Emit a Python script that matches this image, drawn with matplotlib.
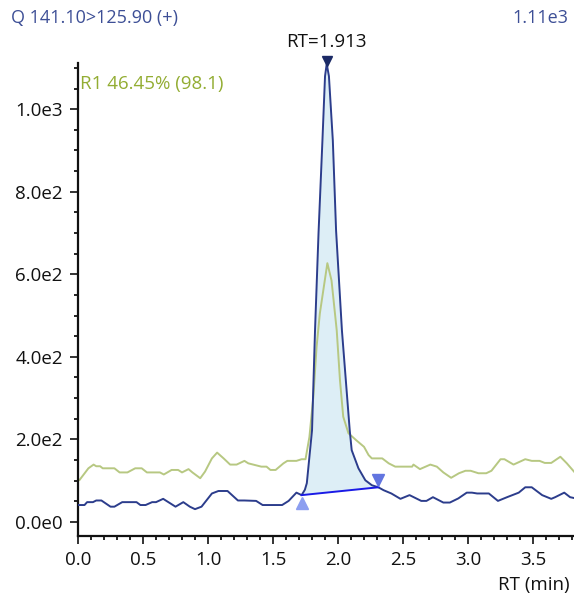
import numpy as np
import matplotlib
matplotlib.use("Agg")
import matplotlib.pyplot as plt
from matplotlib.ticker import MultipleLocator
from matplotlib.transforms import offset_copy

# quantifier trace (blue)
q_time = [0.00, 0.05, 0.07, 0.115, 0.14, 0.18, 0.25, 0.28, 0.34, 0.45, 0.48, 0.52,
          0.57, 0.60, 0.655, 0.75, 0.81, 0.86, 0.90, 0.95, 1.03, 1.08, 1.15, 1.23,
          1.28, 1.37, 1.42, 1.57, 1.62, 1.68, 1.72, 1.745, 1.76, 1.785, 1.80, 1.823,
          1.85, 1.88, 1.90, 1.913, 1.93, 1.96, 1.985, 2.03, 2.09, 2.105, 2.157, 2.21,
          2.26, 2.31, 2.35, 2.41, 2.48, 2.55, 2.64, 2.68, 2.73, 2.81, 2.86, 2.925,
          2.99, 3.03, 3.07, 3.16, 3.23, 3.30, 3.39, 3.44, 3.49, 3.57, 3.64, 3.67,
          3.74, 3.785, 3.815]
q_int = [41, 41, 48, 48, 52, 52, 37, 37, 48, 48, 41, 41,
         48, 48, 56, 37, 48, 37, 31, 37, 69, 75, 75, 52,
         52, 51, 41, 41, 51, 71, 65, 78, 94, 174, 222, 464,
         700, 924, 1080, 1110, 1080, 924, 706, 464, 222, 174, 130, 101,
         89, 84, 77, 69, 56, 65, 51, 51, 60, 47, 47, 57,
         71, 71, 69, 69, 51, 60, 71, 84, 84, 65, 56, 60,
         71, 60, 58]

# qualifier trace (green)
r_time = [0.00, 0.01, 0.08, 0.12, 0.14, 0.17, 0.19, 0.28, 0.32, 0.38, 0.44, 0.49,
          0.53, 0.63, 0.66, 0.72, 0.77, 0.80, 0.85, 0.88, 0.94, 0.977, 1.03, 1.07,
          1.12, 1.17, 1.22, 1.28, 1.31, 1.41, 1.45, 1.48, 1.52, 1.58, 1.61, 1.68,
          1.72, 1.75, 1.78, 1.81, 1.835, 1.86, 1.918, 1.95, 1.99, 2.015, 2.04, 2.08,
          2.14, 2.20, 2.235, 2.26, 2.34, 2.39, 2.44, 2.50, 2.57, 2.58, 2.63, 2.71,
          2.76, 2.81, 2.87, 2.93, 2.98, 3.02, 3.08, 3.14, 3.18, 3.25, 3.28, 3.35,
          3.44, 3.49, 3.55, 3.59, 3.64, 3.71, 3.76, 3.815]
r_int = [101, 101, 130, 139, 135, 135, 130, 130, 120, 120, 130, 130,
         120, 120, 115, 126, 126, 120, 128, 120, 106, 122, 154, 168,
         154, 139, 139, 148, 142, 134, 134, 126, 126, 142, 148, 148,
         152, 152, 206, 303, 424, 505, 627, 585, 464, 343, 255, 215,
         198, 182, 162, 154, 154, 142, 134, 134, 134, 139, 128, 139,
         134, 120, 107, 118, 124, 124, 118, 118, 124, 152, 152, 139,
         152, 148, 148, 143, 143, 158, 142, 122]

peak_start, peak_end, peak_rt = 1.72, 2.31, 1.913
peak_height = 1110

y_ticks = [0, 200, 400, 600, 800, 1000]
y_labels = ["0.0e0", "2.0e2", "4.0e2", "6.0e2", "8.0e2", "1.0e3"]
x_ticks = [0.0, 0.5, 1.0, 1.5, 2.0, 2.5, 3.0, 3.5]

plt.rcParams['font.family'] = ['Open Sans', 'DejaVu Sans']
fs = 13.5

blue = "#2c3d8c"
green = "#b7c882"
title_col = "#3d4f96"

fig = plt.figure(figsize=(5.74, 5.96), dpi=100)
ax = fig.add_axes([0.1359, 0.1007, 0.8641, 0.7936])

qt = np.array(q_time)
qi = np.array(q_int)

# integrated area between trace and baseline
mask = (qt >= peak_start) & (qt <= peak_end)
base_vals = np.interp([peak_start, peak_end], qt, qi)
base_line = np.interp(qt[mask], [peak_start, peak_end], base_vals)
ax.fill_between(qt[mask], base_line, qi[mask], color="#ddeef6", lw=0, zorder=1)

ax.plot(r_time, r_int, color=green, lw=1.4, zorder=2)
ax.plot(q_time, q_int, color=blue, lw=1.4, zorder=3)
ax.plot([peak_start, peak_end], base_vals, color="#1a1ae6", lw=1.4, zorder=4)

# peak start / end markers, offset below / above the baseline points
ax.plot(peak_start, base_vals[0], marker="^", ms=8, color="#8c9ef0", ls="none",
        transform=offset_copy(ax.transData, fig=fig, x=0, y=-8, units="dots"), zorder=5)
ax.plot(peak_end, base_vals[1], marker="v", ms=8, color="#6275e0", ls="none",
        transform=offset_copy(ax.transData, fig=fig, x=0, y=7, units="dots"), zorder=5)
ax.plot(peak_rt, peak_height, marker="v", ms=7, color="#1b2a66", ls="none",
        transform=offset_copy(ax.transData, fig=fig, x=0, y=3, units="dots"),
        clip_on=False, zorder=5)

ax.set_xlim(0, 3.815)
ax.set_ylim(-34, 1112)
ax.set_xticks(x_ticks)
ax.set_xticklabels([f"{v:.1f}" for v in x_ticks])
ax.set_yticks(y_ticks)
ax.set_yticklabels(y_labels)
ax.xaxis.set_minor_locator(MultipleLocator(0.1))
ax.yaxis.set_minor_locator(MultipleLocator(50))
ax.tick_params(which="major", length=6, width=1.2, labelsize=fs, colors="#111111")
ax.tick_params(which="minor", length=3, width=1.2)
ax.tick_params(axis="x", pad=5)
ax.tick_params(axis="y", pad=5)
for s in ["top", "right"]:
    ax.spines[s].set_visible(False)
for s in ["left", "bottom"]:
    ax.spines[s].set_linewidth(1.6)
    ax.spines[s].set_color("#111111")

fig.text(0.019, 0.970, "Q 141.10>125.90 (+)", color=title_col, fontsize=13,
         ha="left", va="center")
fig.text(0.991, 0.970, "1.11e3", color=title_col, fontsize=13, ha="right", va="center")
ax.annotate(f"RT={peak_rt}", xy=(peak_rt, peak_height), xytext=(0, 9),
            textcoords="offset points", ha="center", va="bottom", fontsize=fs,
            color="#111111", annotation_clip=False)
ax.text(0.005, 0.955, "R1 46.45% (98.1)", transform=ax.transAxes, color="#93ad33",
        fontsize=fs, ha="left", va="center")
fig.text(0.993, 0.018, "RT (min)", fontsize=fs, ha="right", va="center", color="#111111")

fig.savefig("out.png", dpi=100)
